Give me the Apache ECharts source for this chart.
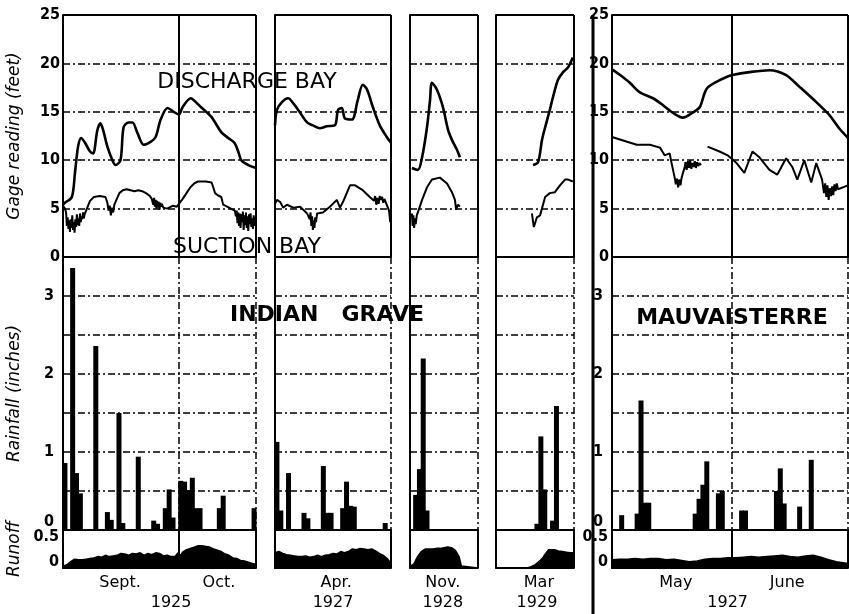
<!DOCTYPE html>
<html><head><meta charset="utf-8">
<script src="https://cdn.jsdelivr.net/npm/echarts@6/dist/echarts.min.js"></script>
<style>html,body{margin:0;padding:0;background:#fff}#c{width:849px;height:614px}</style>
</head><body><div id="c"></div>
<script>
// ---------- DATA (day index, value) ----------
// Indian Grave, Sept-Oct 1925 (day 0 = Sept 1, day 30 = Oct 1)
const p1Discharge = [[0,5.4],[0.5,5.6],[2.3,6.2],[3.1,8.7],[3.9,11.4],[4.7,12.3],[5.7,11.8],[7.0,10.9],[7.8,10.7],[8.9,13.1],[9.7,13.8],[10.4,13.1],[11.5,11.4],[12.8,10.0],[13.6,9.5],[14.9,10.0],[15.7,13.4],[17.0,13.9],[18.0,13.9],[19.3,12.8],[20.9,11.6],[22.7,11.9],[24.0,12.4],[25.3,14.2],[27.1,15.4],[28.7,15.0],[30.0,14.7],[31.0,15.5],[33.1,16.4],[33.9,16.2],[35.7,15.5],[38.4,14.5],[41.0,12.9],[42.8,12.3],[44.4,11.8],[45.4,10.9],[46.2,10.0],[48.0,9.5],[50.0,9.2]];
const p1Suction = [[0,5.3],[0.5,5.0],[0.8,4.6],[1.0,3.2],[1.2,4.1],[1.4,2.9],[1.6,3.8],[1.8,2.6],[2.0,3.9],[2.2,3.0],[2.4,4.3],[2.6,2.8],[2.8,3.6],[3.0,2.5],[3.2,3.9],[3.4,3.1],[3.6,4.4],[3.8,3.3],[4.0,4.0],[4.2,3.2],[4.4,4.5],[4.6,3.6],[4.8,4.2],[5.0,3.9],[5.2,4.6],[5.4,4.0],[5.6,4.4],[5.8,4.2],[6.0,4.6],[6.5,5.3],[7.0,5.8],[7.5,6.0],[8.0,6.2],[9.5,6.3],[11.0,6.2],[11.5,5.6],[11.8,4.8],[12.1,5.3],[12.4,4.3],[12.7,5.1],[13.0,4.6],[13.3,5.4],[13.8,5.6],[14.6,6.6],[15.5,6.9],[16.5,7.0],[17.5,6.9],[18.5,6.8],[19.5,6.9],[20.5,6.8],[21.5,6.6],[22.5,6.3],[23.0,6.0],[23.4,5.4],[23.6,6.1],[23.8,5.2],[24.0,5.9],[24.2,5.0],[24.4,5.8],[24.6,5.1],[24.8,5.7],[25.0,4.9],[25.2,5.6],[25.4,5.2],[25.6,5.5],[26.0,5.1],[26.5,5.3],[27.0,5.0],[27.5,5.2],[28.5,5.3],[29.5,5.2],[30.0,5.3],[31.0,6.0],[32.0,6.6],[33.0,7.2],[34.0,7.6],[35.0,7.8],[37.0,7.8],[38.5,7.7],[39.0,7.1],[39.4,6.6],[40.0,6.4],[41.0,6.2],[41.5,5.4],[42.0,5.2],[43.5,5.0],[44.5,4.8],[44.8,4.2],[45.0,4.8],[45.2,3.5],[45.4,4.6],[45.6,3.2],[45.8,4.5],[46.0,3.0],[46.2,4.4],[46.4,3.6],[46.6,4.7],[46.8,2.8],[47.0,4.3],[47.2,3.3],[47.4,4.6],[47.6,3.0],[47.8,4.2],[48.0,2.7],[48.2,4.4],[48.4,3.4],[48.6,4.5],[48.8,3.1],[49.0,4.0],[49.2,2.9],[49.4,4.3],[49.6,3.2],[49.8,4.1],[50.0,3.5]];
const p1Rain = [[0,0.86],[2,3.36],[3,0.73],[4,0.47],[8,2.36],[11,0.23],[12,0.13],[14,1.5],[15,0.09],[19,0.94],[23,0.12],[24,0.08],[26,0.28],[27,0.52],[28,0.16],[30,0.63],[31,0.62],[32,0.51],[33,0.67],[34,0.28],[35,0.28],[40,0.28],[41,0.44],[49,0.28]];
const p1Runoff = [[0,-0.07],[1,-0.05],[2,0.0],[3,0.04],[4,0.03],[5,0.03],[6,0.04],[7,0.05],[8,0.06],[9,0.08],[10,0.07],[11,0.1],[12,0.08],[13,0.09],[14,0.1],[15,0.13],[16,0.12],[17,0.1],[18,0.13],[19,0.12],[20,0.14],[21,0.1],[22,0.13],[23,0.11],[24,0.14],[25,0.13],[26,0.09],[27,0.1],[28,0.08],[29,0.08],[29.8,0.14],[30.5,0.1],[31,0.15],[32,0.19],[33,0.21],[34,0.23],[35,0.25],[36,0.25],[37,0.24],[38,0.23],[39,0.2],[40,0.18],[41,0.16],[42,0.12],[43,0.1],[44,0.06],[45,0.05],[46,0.02],[47,0.01],[48,-0.01],[49,-0.03],[50,-0.04]];

// Indian Grave, April 1927
const p2Discharge = [[0,13.6],[0.5,15.2],[1.8,16.0],[3.4,16.4],[4.7,15.9],[6.5,14.9],[8.3,13.9],[9.8,13.6],[11.6,13.3],[13.4,13.5],[15.5,13.6],[16.3,15.2],[17.3,15.4],[18.1,14.3],[19.9,14.2],[21.4,16.2],[22.7,17.8],[23.8,17.3],[25.3,15.5],[27.1,13.6],[28.9,12.4],[30,11.8]];
const p2Suction = [[0,5.5],[0.5,5.9],[1.3,5.7],[2.1,5.1],[3.1,5.4],[4.7,5.1],[6.5,5.2],[8.3,4.5],[9.0,3.9],[9.2,4.6],[9.4,3.2],[9.6,4.2],[9.8,2.8],[10.0,3.8],[10.2,3.0],[10.4,4.1],[10.6,3.6],[10.9,4.5],[12.4,4.6],[14.2,5.2],[16.0,5.9],[16.8,5.1],[17.6,5.7],[19.4,7.4],[20.7,7.4],[22.7,6.9],[24.5,6.2],[25.6,5.8],[25.9,6.3],[26.2,5.4],[26.5,6.1],[26.8,5.5],[27.1,6.3],[27.4,5.9],[27.7,6.2],[28.0,5.6],[28.3,6.0],[28.6,5.7],[28.9,5.6],[29.5,4.8],[29.8,3.6],[30,4.2]];
const p2Rain = [[0,1.13],[1,0.25],[3,0.73],[7,0.22],[8,0.15],[12,0.82],[13,0.22],[14,0.22],[17,0.28],[18,0.62],[19,0.31],[20,0.3],[28,0.09]];
const p2Runoff = [[0,0.14],[1,0.16],[2,0.13],[3,0.11],[4,0.1],[5,0.09],[6,0.08],[7,0.08],[8,0.09],[9,0.07],[10,0.08],[11,0.1],[12,0.08],[13,0.1],[14,0.11],[15,0.13],[16,0.12],[17,0.16],[18,0.14],[19,0.16],[20,0.2],[21,0.19],[22,0.21],[23,0.2],[24,0.19],[25,0.2],[26,0.17],[27,0.13],[28,0.1],[29,0.05],[30,-0.03]];

// Indian Grave, November 1928
const p3Discharge = [[0.5,9.2],[2.1,9.0],[3.2,10.3],[4.5,13.4],[5.3,16.2],[5.8,18.0],[7.1,17.3],[8.7,15.5],[10.1,13.1],[11.1,12.1],[12.4,11.1],[13.2,10.3]];
const p3Suction = [[0.5,4.5],[0.7,3.2],[0.9,4.3],[1.1,3.0],[1.3,4.0],[1.5,3.4],[1.8,4.3],[2.6,5.2],[3.2,5.9],[4.5,7.2],[5.8,8.0],[7.9,8.2],[9.8,7.6],[11.1,6.7],[11.9,5.9],[12.2,4.9],[12.7,5.4],[13.2,5.2]];
const p3Rain = [[1,0.45],[2,0.78],[3,2.2],[4,0.25]];
const p3Runoff = [[0,-0.07],[1,-0.04],[2,0.08],[3,0.16],[4,0.2],[5,0.2],[6,0.2],[7,0.21],[8,0.21],[9,0.22],[10,0.23],[11,0.22],[12,0.18],[13,0.08],[13.6,-0.07],[13.8,-0.1],[18,-0.1]];

// Indian Grave, March 1929
const p4Discharge = [[9.5,9.5],[10.8,9.8],[11.8,12.1],[12.6,13.4],[13.8,15.2],[14.6,16.5],[15.9,18.3],[17.2,19.1],[18.5,19.6],[19.7,20.6]];
const p4Suction = [[9.2,4.5],[9.7,3.1],[10.5,4.1],[11.3,4.3],[11.8,4.5],[12.6,6.2],[13.8,6.6],[15.1,6.7],[16.4,7.4],[17.7,8.0],[18.5,8.0],[19.7,7.8]];
const p4Rain = [[10,0.08],[11,1.2],[12,0.52],[14,0.12],[15,1.59]];
const p4Runoff = [[0,-0.1],[8,-0.1],[9,-0.08],[10,-0.05],[11,0.0],[12,0.06],[12.5,0.11],[13,0.15],[13.5,0.19],[14,0.2],[15,0.19],[16,0.17],[17,0.16],[18,0.15],[19,0.14],[20,0.14]];

// Mauvaisterre, May-June 1927 (day 0 = May 1, day 31 = June 1)
const p5Discharge = [[0,19.4],[0.3,19.3],[2.1,18.8],[4.6,18.0],[7.2,17.0],[10.6,16.4],[13.1,15.7],[15.7,14.9],[18.3,14.4],[20.8,14.9],[22.7,15.5],[23.9,16.9],[24.7,17.5],[27.0,18.1],[29.6,18.6],[31.1,18.8],[35.5,19.1],[40.7,19.3],[45.0,18.8],[48.4,17.6],[52.8,16.0],[56.1,14.7],[58.7,13.3],[61,12.3]];
const p5SuctionA = [[0,12.4],[0.3,12.3],[3.9,11.9],[6.4,11.6],[9.8,11.6],[12.4,11.3],[13.6,10.5],[14.9,10.7],[15.4,9.7],[16.2,8.2],[16.5,7.5],[16.8,8.1],[17.1,7.2],[17.4,8.0],[17.7,7.4],[18.0,8.2],[18.3,8.0],[18.8,9.3],[19.0,9.8],[19.3,9.0],[19.6,9.9],[19.9,9.2],[20.2,10.0],[20.5,9.1],[20.8,9.7],[21.1,9.3],[21.4,9.9],[21.7,9.2],[22.0,9.8],[22.3,9.4],[22.6,9.7],[23.0,9.5]];
const p5SuctionB = [[24.7,11.4],[27.8,10.9],[29.9,10.5],[32.2,9.7],[34.2,8.7],[36.3,10.9],[38.1,10.3],[40.7,9.0],[42.7,8.5],[45.0,10.2],[46.6,9.3],[47.9,8.0],[49.7,10.0],[51.5,7.7],[52.8,9.7],[54.3,8.0],[54.8,6.6],[55.1,7.6],[55.4,6.2],[55.7,7.4],[56.0,5.9],[56.3,7.1],[56.6,6.3],[56.9,7.3],[57.2,6.4],[57.5,7.5],[57.8,6.8],[58.1,7.6],[58.4,7.0],[58.7,7.2],[61,7.4]];
const p5Rain = [[2,0.19],[6,0.21],[7,1.66],[8,0.35],[9,0.35],[21,0.21],[22,0.4],[23,0.58],[24,0.88],[27,0.47],[28,0.5],[33,0.25],[34,0.25],[42,0.5],[43,0.79],[44,0.34],[48,0.3],[51,0.9]];
const p5Runoff = [[0,0.03],[2,0.04],[4,0.04],[6,0.05],[8,0.04],[10,0.05],[12,0.05],[14,0.03],[16,0.04],[18,0.02],[20,0.0],[22,0.01],[24,0.04],[26,0.05],[28,0.05],[30,0.06],[32,0.06],[34,0.07],[36,0.08],[38,0.07],[40,0.08],[42,0.09],[44,0.1],[46,0.08],[48,0.07],[50,0.09],[52,0.1],[54,0.07],[56,0.03],[58,0.0],[61,-0.03]];

// month / year labels: [text, panel, day, line]
const monthLabels = [['Sept.',0,14.8,0],['Oct.',0,40.4,0],['1925',0,28,1],['Apr.',1,15.8,0],['1927',1,15,1],['Nov.',2,8.7,0],['1928',2,8.7,1],['Mar',3,11,0],['1929',3,10.5,1],['May',4,16.5,0],['June',4,45.3,0],['1927',4,29.9,1]];
const gageTicks = [0,5,10,15,20,25];
const rainTicks = [0,1,2,3];
const runoffTicks = [0,0.5];

// ---------- LAYOUT ----------
const ROWS = [{top:15,h:242},{top:257,h:273},{top:530,h:38}];
const PANELS = [
  {left:63,w:193,max:50,split:30,lab:true,d:p1Discharge,s:[p1Suction],r:p1Rain,o:p1Runoff},
  {left:275,w:116,max:30,split:30,lab:false,d:p2Discharge,s:[p2Suction],r:p2Rain,o:p2Runoff},
  {left:410,w:68,max:18,split:18,lab:false,d:p3Discharge,s:[p3Suction],r:p3Rain,o:p3Runoff},
  {left:496,w:78,max:20,split:20,lab:false,d:p4Discharge,s:[p4Suction],r:p4Rain,o:p4Runoff},
  {left:612,w:236,max:61,split:31,lab:true,d:p5Discharge,s:[p5SuctionA,p5SuctionB],r:p5Rain,o:p5Runoff}
];
const DASH = [7,3,2,3];
const labelFont = {color:'#000',fontFamily:'"Liberation Sans Narrow","DejaVu Sans Condensed","DejaVu Sans",sans-serif',fontWeight:'bold',fontSize:16};
const near = (a,b)=>Math.abs(a-b)<1e-6;

const grid=[], xAxis=[], yAxis=[], series=[];
PANELS.forEach((p,pi)=>{
  ROWS.forEach((r,ri)=>{
    const gi = pi*3+ri;
    grid.push({left:p.left, top:r.top, width:p.w, height:r.h});
    xAxis.push({gridIndex:gi,type:'value',min:0,max:p.max,interval:p.split,
      axisLabel:{show:false},axisTick:{show:false},
      axisLine:{show:true,onZero:false,lineStyle:{color:'#000',width:2}},
      splitLine:{show:true,lineStyle:{color:'#000',width:ri===1?1.5:2,type:ri===1?DASH:'solid'}}});
    let ya = {gridIndex:gi,type:'value',axisTick:{show:false},
      axisLine:{show:true,lineStyle:{color:'#000',width:2}},
      nameLocation:'middle',nameRotate:90,
      nameTextStyle:{color:'#000',fontFamily:'"DejaVu Sans",sans-serif',fontStyle:'italic',fontSize:17}};
    if(ri===0){
      Object.assign(ya,{min:0,max:25,interval:5,
        splitLine:{show:true,lineStyle:{color:'#000',width:1.5,type:DASH}},
        axisLabel:Object.assign({show:p.lab,margin:3,formatter:v=>gageTicks.some(t=>near(t,v))?String(v):''},labelFont)});
      if(pi===0){ya.name='Gage reading (feet)'; ya.nameGap=40;}
    } else if(ri===1){
      Object.assign(ya,{min:0,max:3.5,interval:0.5,
        splitLine:{show:true,lineStyle:{color:'#000',width:1.5,type:DASH}},
        axisLabel:Object.assign({show:p.lab,margin:9,
          formatter:v=>near(v,0)?'{lo|0}':(rainTicks.some(t=>near(t,v))?String(v):''),
          rich:{lo:Object.assign({padding:[0,0,16,0]},labelFont)}},labelFont)});
      if(pi===0){ya.name='Rainfall (inches)'; ya.nameGap=40;}
    } else {
      Object.assign(ya,{min:-0.1,max:0.5,interval:0.1,
        splitLine:{show:false},
        axisLabel:Object.assign({show:p.lab,margin:4,
          formatter:v=>near(v,0.5)?'{hi|0.5}':(near(v,0)?'0':''),
          rich:{hi:Object.assign({padding:[14,0,0,0]},labelFont)}},labelFont)});
      if(pi===0){ya.name='Runoff'; ya.nameGap=40;}
    }
    yAxis.push(ya);
  });
  const g0=pi*3, g1=pi*3+1, g2=pi*3+2;
  series.push({type:'line',xAxisIndex:g0,yAxisIndex:g0,data:p.d,symbol:'none',smooth:0.3,
    lineStyle:{color:'#000',width:2.6},silent:true,
    markLine:{silent:true,symbol:'none',animation:false,label:{show:false},
      lineStyle:{color:'#000',width:2,type:'solid'},data:[{yAxis:25}]}});
  p.s.forEach(s=>series.push({type:'line',xAxisIndex:g0,yAxisIndex:g0,data:s,symbol:'none',
    lineStyle:{color:'#000',width:2},silent:true}));
  series.push({type:'bar',xAxisIndex:g1,yAxisIndex:g1,data:p.r.map(d=>[d[0]+0.5,d[1]]),
    barWidth:5,itemStyle:{color:'#000'},silent:true});
  series.push({type:'line',xAxisIndex:g2,yAxisIndex:g2,data:p.o,symbol:'none',
    lineStyle:{color:'#000',width:1.5},areaStyle:{color:'#000',opacity:1,origin:'start'},silent:true});
});

const chart = echarts.init(document.getElementById('c'),null,{renderer:'canvas'});
chart.setOption({animation:false,backgroundColor:'#fff',grid,xAxis,yAxis,series});

const txt=(text,x,y,font)=>({type:'text',silent:true,style:{text,x,y,font,fill:'#000',
  textAlign:'center',textVerticalAlign:'middle',align:'center',verticalAlign:'middle'}});
const graphic=[];
const bigFont='22px "DejaVu Sans",sans-serif';
const boldFont='bold 22px "DejaVu Sans",sans-serif';
const px=(pi,day)=>chart.convertToPixel({xAxisIndex:pi*3},day);
const py=(pi,ri,v)=>chart.convertToPixel({yAxisIndex:pi*3+ri},v);
graphic.push(txt('DISCHARGE BAY',247,py(0,0,18),bigFont));
graphic.push(txt('SUCTION BAY',247,py(0,0,1.0),bigFont));
graphic.push(txt('INDIAN   GRAVE',327,py(0,1,2.75),boldFont));
graphic.push(txt('MAUVAISTERRE',732,py(4,1,2.72),boldFont));
monthLabels.forEach(m=>{
  const x = px(m[1],m[2]);
  graphic.push(txt(m[0],x,m[3]===0?583:603,'16px "DejaVu Sans",sans-serif'));
});
// separator between the two stations
const sepX = (chart.convertToPixel({xAxisIndex:9},20)+chart.convertToPixel({xAxisIndex:12},0))/2;
graphic.push({type:'line',silent:true,shape:{x1:sepX,y1:15,x2:sepX,y2:614},style:{stroke:'#000',lineWidth:3}});
chart.setOption({graphic});
</script></body></html>
